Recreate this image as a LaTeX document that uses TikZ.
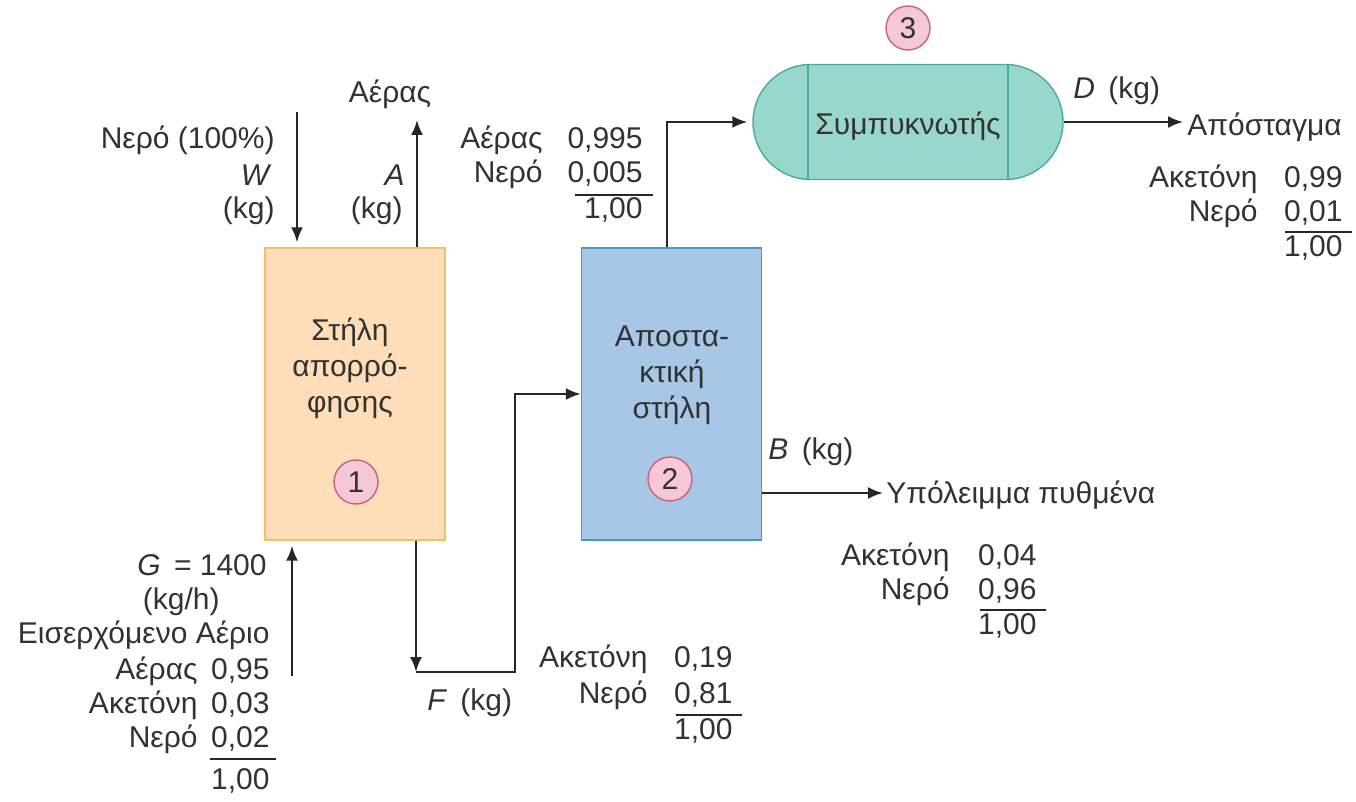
\documentclass[tikz,border=0pt]{standalone}
\usepackage{fontspec}
\setmainfont{Liberation Sans}
\usetikzlibrary{arrows.meta,shapes.misc,calc}

\definecolor{txt}{RGB}{50,50,50}
\definecolor{ora}{RGB}{253,222,184}
\definecolor{orad}{RGB}{244,190,105}
\definecolor{blu}{RGB}{168,198,229}
\definecolor{blud}{RGB}{75,150,200}
\definecolor{tea}{RGB}{152,216,204}
\definecolor{tead}{RGB}{70,172,156}
\definecolor{pin}{RGB}{245,200,216}
\definecolor{pind}{RGB}{205,95,125}

\begin{document}
\begin{tikzpicture}[x=0.5pt,y=-0.5pt,
    lbl/.style={text=txt,font=\fontsize{15}{18}\selectfont,inner sep=0pt},
    flow/.style={draw=black!85,line width=1.1pt,-{Latex[length=7.5pt,width=6pt]}},
    unit/.style={draw,line width=0.7pt,minimum width=90pt,minimum height=146pt,inner sep=0pt},
    num/.style={circle,draw=pind,fill=pin,line width=0.7pt,minimum size=22pt,inner sep=0pt,
        text=txt,font=\fontsize{15}{17}\selectfont},
    sumline/.style={draw=black!85,line width=0.8pt}]
    \useasboundingbox (0,0) rectangle (1356,802);
    %
    % units
    \node[unit,draw=orad,fill=ora] (abs) at (355,394) {};
    \node[unit,draw=blud,fill=blu] (dist) at (671.5,394) {};
    \node[rounded rectangle,rounded rectangle arc length=180,draw=tead,fill=tea,line width=0.7pt,
        minimum width=155pt,minimum height=57.5pt,inner sep=0pt,lbl] (cond) at (908,122) {};
    \draw[tead,line width=0.7pt] ($(cond.north)+(-100,0)$) -- ($(cond.south)+(-100,0)$);
    \draw[tead,line width=0.7pt] ($(cond.north)+(100,0)$) -- ($(cond.south)+(100,0)$);
    \node[lbl] (condtxt) at (908,126) {Συμπυκνωτής};
    \node[lbl,align=center] (abstxt) at (350,368) {Στήλη\\απορρό-\\φησης};
    \node[lbl,align=center] (disttxt) at (672,375) {Αποστα-\\κτική\\στήλη};
    \node[num] (n1) at (356,482) {1};
    \node[num] (n2) at (670,479) {2};
    \node[num] (n3) at (908,28) {3};
    %
    % stream ends
    \coordinate (win) at (297,112);
    \coordinate (aout) at (417,120);
    \coordinate (gin) at (292,676);
    \coordinate (fc) at (416,672);
    \coordinate (fr) at (515,672);
    \coordinate (vx) at (667,248);
    \coordinate (dout) at (1183,122);
    \coordinate (bout) at (883,493);
    %
    \draw[flow,shorten >=2.5pt] (win) -- (win |- abs.north);
    \draw[flow] (aout |- abs.north) -- (aout);
    \draw[flow,shorten >=2.5pt] (gin) -- (gin |- abs.south);
    \draw[flow] (fc |- abs.south) -- (fc);
    \draw[flow] (fc) -- (fr) |- (dist.west);
    \draw[flow,shorten >=2.5pt] (vx |- dist.north) |- (cond.west);
    \draw[flow] (cond.east) -- (dout);
    \draw[flow] (bout -| dist.east) -- (bout);
    %
    % water in, air out
    \node[lbl,anchor=mid east] (w1) at (275,143) {Νερό (100\%)};
    \node[lbl,anchor=mid east] (w2) at (272,180) {\textit{W}};
    \node[lbl,anchor=mid east] (w3) at (275,213) {(kg)};
    \node[lbl,anchor=mid] (a1) at (390,97) {Αέρας};
    \node[lbl,anchor=mid east] (a2) at (405,180) {\textit{A}};
    \node[lbl,anchor=mid east] (a3) at (403,213) {(kg)};
    %
    % top of distillation column
    \node[lbl,anchor=mid east] (t1) at (543,143) {Αέρας};
    \node[lbl,anchor=mid east] (t1v) at (643,143) {0,995};
    \node[lbl,anchor=mid east] (t2) at (543,177) {Νερό};
    \node[lbl,anchor=mid east] (t2v) at (643,177) {0,005};
    \draw[sumline] (575,195) -- (653,195);
    \node[lbl,anchor=mid east] (t3v) at (643,213) {1,00};
    %
    % distillate
    \node[lbl,anchor=mid west] (d0) at (1073,93) {\textit{D}\, (kg)};
    \node[lbl,anchor=mid west] (d1) at (1187,130) {Απόσταγμα};
    \node[lbl,anchor=mid east] (d2) at (1258,182) {Ακετόνη};
    \node[lbl,anchor=mid east] (d2v) at (1343,182) {0,99};
    \node[lbl,anchor=mid east] (d3) at (1258,216) {Νερό};
    \node[lbl,anchor=mid east] (d3v) at (1343,216) {0,01};
    \draw[sumline] (1285,232) -- (1352,232);
    \node[lbl,anchor=mid east] (d4v) at (1343,251) {1,00};
    %
    % bottoms
    \node[lbl,anchor=mid west] (b0) at (768,454) {\textit{B}\, (kg)};
    \node[lbl,anchor=mid west] (b1) at (886,498) {Υπόλειμμα πυθμένα};
    \node[lbl,anchor=mid east] (b2) at (950,560) {Ακετόνη};
    \node[lbl,anchor=mid east] (b2v) at (1037,560) {0,04};
    \node[lbl,anchor=mid east] (b3) at (950,594) {Νερό};
    \node[lbl,anchor=mid east] (b3v) at (1037,594) {0,96};
    \draw[sumline] (980,610) -- (1046,610);
    \node[lbl,anchor=mid east] (b4v) at (1037,629) {1,00};
    %
    % feed F
    \node[lbl,anchor=mid west] (f0) at (427,705) {\textit{F}\, (kg)};
    \node[lbl,anchor=mid east] (f1) at (648,662) {Ακετόνη};
    \node[lbl,anchor=mid east] (f1v) at (733,662) {0,19};
    \node[lbl,anchor=mid east] (f2) at (648,698) {Νερό};
    \node[lbl,anchor=mid east] (f2v) at (733,698) {0,81};
    \draw[sumline] (676,715) -- (742,715);
    \node[lbl,anchor=mid east] (f3v) at (733,734) {1,00};
    %
    % gas in
    \node[lbl,anchor=mid east] (g0) at (267,570) {\textit{G}\, = 1400};
    \node[lbl,anchor=mid east] (g1) at (220,604) {(kg/h)};
    \node[lbl,anchor=mid east] (g2) at (270,638) {Εισερχόμενο Αέριο};
    \node[lbl,anchor=mid east] (g3) at (198,674) {Αέρας};
    \node[lbl,anchor=mid east] (g3v) at (270,674) {0,95};
    \node[lbl,anchor=mid east] (g4) at (198,708) {Ακετόνη};
    \node[lbl,anchor=mid east] (g4v) at (270,708) {0,03};
    \node[lbl,anchor=mid east] (g5) at (198,742) {Νερό};
    \node[lbl,anchor=mid east] (g5v) at (270,742) {0,02};
    \draw[sumline] (210,759) -- (276,759);
    \node[lbl,anchor=mid east] (g6v) at (270,784) {1,00};
\end{tikzpicture}
\end{document}
